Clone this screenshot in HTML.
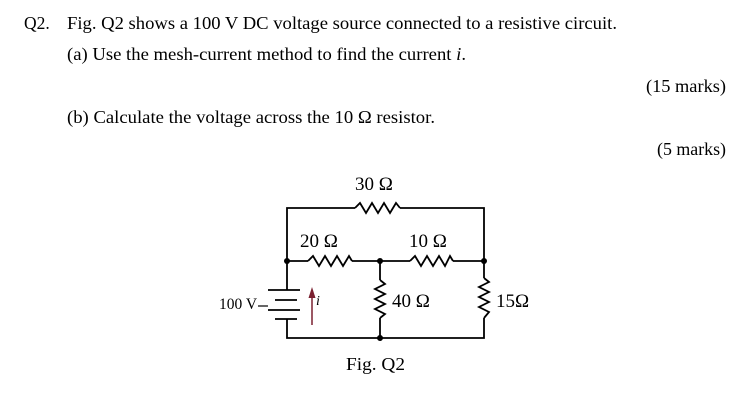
<!DOCTYPE html>
<html><head><meta charset="utf-8"><style>
html,body{margin:0;padding:0;background:#fff;}
svg{display:block;font-family:"Liberation Serif",serif;}
</style></head><body>
<svg width="740" height="403" viewBox="0 0 740 403" xmlns="http://www.w3.org/2000/svg">
<g font-size="17.5" fill="#000">
<text x="24" y="29">Q2.</text>
<text x="67" y="29" textLength="550" lengthAdjust="spacingAndGlyphs">Fig. Q2 shows a 100 V DC voltage source connected to a resistive circuit.</text>
<text x="67" y="60" textLength="399" lengthAdjust="spacingAndGlyphs">(a) Use the mesh-current method to find the current <tspan font-style="italic">i</tspan>.</text>
<text x="646" y="92" textLength="80" lengthAdjust="spacingAndGlyphs">(15 marks)</text>
<text x="67" y="123" textLength="368" lengthAdjust="spacingAndGlyphs">(b) Calculate the voltage across the 10 Ω resistor.</text>
<text x="657" y="155" textLength="69" lengthAdjust="spacingAndGlyphs">(5 marks)</text>
<text x="346" y="370" textLength="59" lengthAdjust="spacingAndGlyphs">Fig. Q2</text>
</g>
<g stroke="#000" stroke-width="1.8" fill="none">
<polyline points="287,290 287,208 355,208"/>
<polyline points="355,208 360,203 366,213 372,203 378,213 384,203 390,213 396,203 400,208"/>
<polyline points="400,208 484,208 484,278"/>
<line x1="287" y1="261" x2="308" y2="261"/>
<polyline points="308,261 313,256 319,266 325,256 331,266 337,256 343,266 349,256 352,261"/>
<line x1="352" y1="261" x2="410" y2="261"/>
<polyline points="410,261 415,256 421,266 427,256 433,266 439,256 445,266 450,256 453,261"/>
<line x1="453" y1="261" x2="484" y2="261"/>
<line x1="380" y1="261" x2="380" y2="280"/>
<polyline points="380,280 385,284 375,289 385,294 375,299 385,304 375,309 385,314 380,318"/>
<line x1="380" y1="318" x2="380" y2="338"/>
<polyline points="484,278 489,282 479,287 489,292 479,297 489,302 479,307 489,312 484,318"/>
<polyline points="484,318 484,338 287,338 287,319"/>
<line x1="268" y1="290" x2="300" y2="290"/>
<line x1="275" y1="300" x2="297" y2="300"/>
<line x1="268" y1="310" x2="300" y2="310"/>
<line x1="275" y1="319" x2="297" y2="319"/>
<line x1="258" y1="306" x2="268" y2="306" stroke-width="1.2"/>
</g>
<g fill="#000">
<circle cx="287" cy="261" r="3"/><circle cx="380" cy="261" r="3"/><circle cx="484" cy="261" r="3"/><circle cx="380" cy="338" r="3"/>
</g>
<line x1="312" y1="325" x2="312" y2="296" stroke="#7a2030" stroke-width="1.5"/>
<polygon points="312,287 308.5,298 315.5,298" fill="#7a2030"/>
<g font-size="19" fill="#000">
<text x="355" y="190">30 Ω</text>
<text x="300" y="247">20 Ω</text>
<text x="409" y="247">10 Ω</text>
<text x="392" y="307">40 Ω</text>
<text x="496" y="307">15Ω</text>
<text x="219" y="309" font-size="15.5">100 V</text>
<text x="316" y="305" font-size="14" font-style="italic">i</text>
</g>
</svg>
</body></html>
